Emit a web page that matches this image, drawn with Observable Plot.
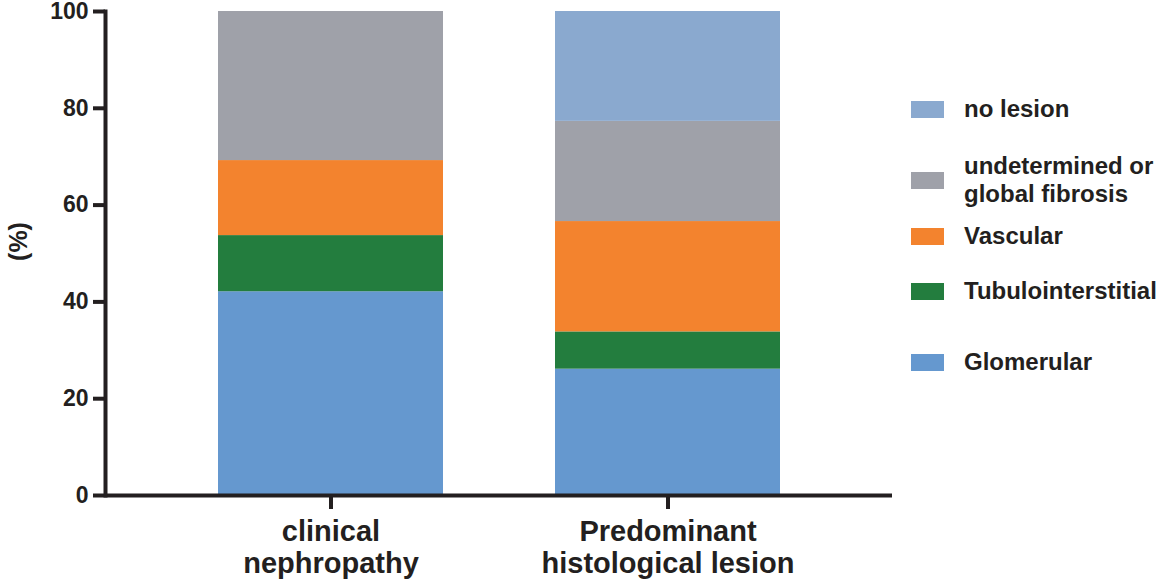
<!DOCTYPE html>
<html>
<head>
<meta charset="utf-8">
<script src="https://cdn.jsdelivr.net/npm/d3@7"></script>
<script src="https://cdn.jsdelivr.net/npm/@observablehq/plot@0.6"></script>
<style>
  html, body { margin: 0; padding: 0; background: #fff; }
  #wrap { position: relative; width: 1165px; height: 580px; font-family: "Liberation Sans", Arial, Helvetica, sans-serif; color: #231f20; }
  #wrap svg { overflow: visible; }
  #legend { position: absolute; left: 0; top: 0; }
  .item { position: absolute; left: 911px; display: flex; align-items: center; transform: translateY(-50%); }
  .sw { width: 33px; height: 17px; margin-right: 20px; flex: none; }
  .lab { font-weight: bold; font-size: 24px; line-height: 28px; white-space: nowrap; }
</style>
</head>
<body>
<div id="wrap"><div id="legend"></div></div>
<script>
// ---- data ----
const categories = ["clinical nephropathy", "Predominant histological lesion"];
const categoryLabels = ["clinical\nnephropathy", "Predominant\nhistological lesion"];
// stacked bottom -> top
const series = ["Glomerular", "Tubulointerstitial", "Vascular", "undetermined or\nglobal fibrosis", "no lesion"];
const glomerular         = [42.1, 26.1];
const tubulointerstitial = [11.6, 7.7];
const vascular           = [15.5, 22.8];
const undetermined       = [30.8, 20.7];
const noLesion           = [0.0, 22.7];
const colors = ["#6598cf", "#237d3e", "#f3832e", "#9fa1a9", "#8aa9cf"];
const yTicks = [0, 20, 40, 60, 80, 100];

// ---- build table ----
const valuesBySeries = [glomerular, tubulointerstitial, vascular, undetermined, noLesion];
const rows = [];
series.forEach((s, si) => categories.forEach((c, ci) => rows.push({category: c, series: s, value: valuesBySeries[si][ci]})));

const ink = "#231f20";
const font = "Liberation Sans, Arial, Helvetica, sans-serif";

const chart = Plot.plot({
  width: 1165,
  height: 580,
  marginLeft: 105,
  marginRight: 273,
  marginTop: 11,
  marginBottom: 85,
  style: {fontFamily: font, color: ink, background: "transparent", overflow: "visible"},
  x: {domain: categories, padding: 1/3, label: null},
  y: {domain: [0, 100], label: null},
  color: {domain: series, range: colors},
  marks: [
    Plot.barY(rows, {x: "category", y: "value", fill: "series", order: series, inset: 0}),
    Plot.axisY({ticks: yTicks, tickSize: 12, tickPadding: 5, strokeWidth: 4, stroke: ink, fill: ink,
      fontSize: 23, fontWeight: "bold", label: null}),
    Plot.axisX({tickSize: 14, tickPadding: 9, strokeWidth: 4, stroke: ink, fill: ink,
      fontSize: 29, fontWeight: "bold", lineHeight: 1.1, label: null,
      tickFormat: d => categoryLabels[categories.indexOf(d)]}),
    Plot.ruleY([0], {stroke: ink, strokeWidth: 4}),
    Plot.frame({anchor: "left", stroke: ink, strokeWidth: 4}),
    Plot.text(["(%)"], {frameAnchor: "left", textAnchor: "middle", dx: -87, dy: -12, rotate: -90, text: d => d,
      fontSize: 25, fontWeight: "bold", fill: ink})
  ]
});
document.getElementById("wrap").prepend(chart);

// ---- legend (top to bottom) ----
const legendCenters = [109, 180, 236, 291, 362];
const legend = document.getElementById("legend");
series.slice().reverse().forEach((s, i) => {
  const idx = series.indexOf(s);
  const item = document.createElement("div");
  item.className = "item";
  item.style.top = legendCenters[i] + "px";
  const sw = document.createElement("div");
  sw.className = "sw";
  sw.style.background = colors[idx];
  const lab = document.createElement("div");
  lab.className = "lab";
  lab.innerHTML = s.split("\n").join("<br>");
  item.appendChild(sw);
  item.appendChild(lab);
  legend.appendChild(item);
});
</script>
</body>
</html>
